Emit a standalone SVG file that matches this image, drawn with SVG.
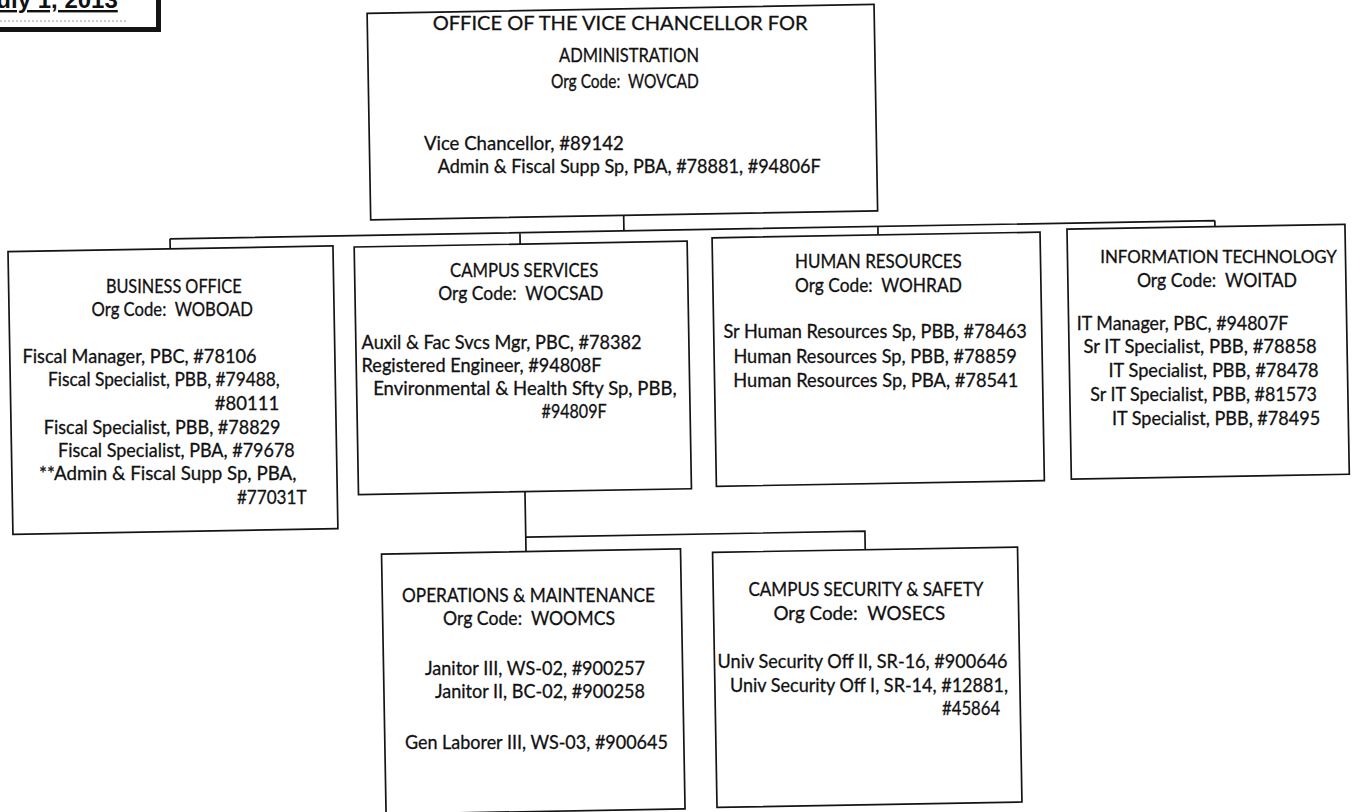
<svg xmlns="http://www.w3.org/2000/svg" width="1352" height="812" viewBox="0 0 1352 812">
<style>
.bx{fill:#fff;stroke:#141414;stroke-width:1.7}
.cn{fill:none;stroke:#141414;stroke-width:1.7}
text{font-family:Lato,"Open Sans","Liberation Sans",sans-serif;font-size:19px;fill:#111;stroke:#111;stroke-width:0.3;white-space:pre}
.hd{font-size:20px}
.it{font-size:17px}
.dt{font-family:"Liberation Sans",Arial,sans-serif;font-weight:bold;font-size:24px;text-decoration:underline;stroke-width:0}
</style>
<rect x="0" y="0" width="1352" height="812" fill="#fff"/>
<g id="date">
<line x1="0" y1="21" x2="126" y2="21" stroke="#9a9a9a" stroke-width="1" stroke-dasharray="2 2"/>
<path d="M0 29.5 H158.5 V0" fill="none" stroke="#141414" stroke-width="5"/>
<text class="dt" x="-17" y="8">July 1, 2013</text>
</g>
<g id="connectors" transform="rotate(-1 676 406)">
<path class="cn" d="M627 214.5 V230 M173 230 H1218 M173 230 V240 M523 230 V241.4 M881 230 V238.5 M1218 230 V236"/>
<path class="cn" d="M523.5 489 V549 M523.5 534.5 H862.7 V553"/>
</g>
<g id="vc-office">
<rect class="bx" x="374" y="8" width="507" height="206.5" transform="rotate(-1 676 406)"/>
<text class="hd" x="432.7" y="30.4" textLength="375" lengthAdjust="spacingAndGlyphs">OFFICE OF THE VICE CHANCELLOR FOR</text>
<text class="hd" x="559" y="61.6" textLength="140" lengthAdjust="spacingAndGlyphs">ADMINISTRATION</text>
<text x="550.9" y="88.2" textLength="148" lengthAdjust="spacingAndGlyphs">Org Code:  WOVCAD</text>
<text x="423.9" y="150" textLength="200" lengthAdjust="spacingAndGlyphs">Vice Chancellor, #89142</text>
<text x="437.7" y="173.2" textLength="383" lengthAdjust="spacingAndGlyphs">Admin &amp; Fiscal Supp Sp, PBA, #78881, #94806F</text>
</g>
<g id="business-office">
<rect class="bx" x="10.8" y="240" width="325" height="282.7" transform="rotate(-1 676 406)"/>
<text x="105.9" y="292.7" textLength="135.7" lengthAdjust="spacingAndGlyphs">BUSINESS OFFICE</text>
<text x="91.6" y="315.8" textLength="161.3" lengthAdjust="spacingAndGlyphs">Org Code:  WOBOAD</text>
<text x="22.5" y="363.3" textLength="234" lengthAdjust="spacingAndGlyphs">Fiscal Manager, PBC, #78106</text>
<text x="48.1" y="386.4" textLength="231.7" lengthAdjust="spacingAndGlyphs">Fiscal Specialist, PBB, #79488,</text>
<text x="214.8" y="409.5" textLength="64.3" lengthAdjust="spacingAndGlyphs">#80111</text>
<text x="43.8" y="433.5" textLength="236.7" lengthAdjust="spacingAndGlyphs">Fiscal Specialist, PBB, #78829</text>
<text x="58.1" y="456.7" textLength="236.7" lengthAdjust="spacingAndGlyphs">Fiscal Specialist, PBA, #79678</text>
<text x="39.1" y="480.4" textLength="257.4" lengthAdjust="spacingAndGlyphs">**Admin &amp; Fiscal Supp Sp, PBA,</text>
<text x="236.9" y="503.5" textLength="69.7" lengthAdjust="spacingAndGlyphs">#77031T</text>
</g>
<g id="campus-services">
<rect class="bx" x="357" y="241.4" width="333" height="247.6" transform="rotate(-1 676 406)"/>
<text x="450" y="276.9" textLength="148.3" lengthAdjust="spacingAndGlyphs">CAMPUS SERVICES</text>
<text x="438.3" y="299.9" textLength="165" lengthAdjust="spacingAndGlyphs">Org Code:  WOCSAD</text>
<text x="361.6" y="348.5" textLength="280" lengthAdjust="spacingAndGlyphs">Auxil &amp; Fac Svcs Mgr, PBC, #78382</text>
<text x="361.6" y="371.5" textLength="240" lengthAdjust="spacingAndGlyphs">Registered Engineer, #94808F</text>
<text x="373.2" y="394.5" textLength="303.4" lengthAdjust="spacingAndGlyphs">Environmental &amp; Health Sfty Sp, PBB,</text>
<text x="541.6" y="417.5" textLength="65" lengthAdjust="spacingAndGlyphs">#94809F</text>
</g>
<g id="human-resources">
<rect class="bx" x="715" y="238.5" width="328" height="248.5" transform="rotate(-1 676 406)"/>
<text x="795.1" y="268.2" textLength="166.7" lengthAdjust="spacingAndGlyphs">HUMAN RESOURCES</text>
<text x="795.1" y="291.6" textLength="166.7" lengthAdjust="spacingAndGlyphs">Org Code:  WOHRAD</text>
<text x="723.4" y="338.3" textLength="303.4" lengthAdjust="spacingAndGlyphs">Sr Human Resources Sp, PBB, #78463</text>
<text x="733.4" y="362.5" textLength="283.4" lengthAdjust="spacingAndGlyphs">Human Resources Sp, PBB, #78859</text>
<text x="733.3" y="387" textLength="285" lengthAdjust="spacingAndGlyphs">Human Resources Sp, PBA, #78541</text>
</g>
<g id="information-technology">
<rect class="bx" x="1070" y="236" width="278" height="250" transform="rotate(-1 676 406)"/>
<text class="it" x="1100.2" y="263.3" textLength="236.7" lengthAdjust="spacingAndGlyphs">INFORMATION TECHNOLOGY</text>
<text x="1136.9" y="286.5" textLength="160" lengthAdjust="spacingAndGlyphs">Org Code:  WOITAD</text>
<text x="1076.8" y="329.9" textLength="211.6" lengthAdjust="spacingAndGlyphs">IT Manager, PBC, #94807F</text>
<text x="1083.4" y="353.2" textLength="233.4" lengthAdjust="spacingAndGlyphs">Sr IT Specialist, PBB, #78858</text>
<text x="1108.5" y="376.7" textLength="210" lengthAdjust="spacingAndGlyphs">IT Specialist, PBB, #78478</text>
<text x="1090.2" y="401" textLength="226.7" lengthAdjust="spacingAndGlyphs">Sr IT Specialist, PBB, #81573</text>
<text x="1111.9" y="424.5" textLength="208.3" lengthAdjust="spacingAndGlyphs">IT Specialist, PBB, #78495</text>
</g>
<g id="operations-maintenance">
<rect class="bx" x="379" y="549" width="299" height="260" transform="rotate(-1 676 406)"/>
<text x="402" y="602.1" textLength="253" lengthAdjust="spacingAndGlyphs">OPERATIONS &amp; MAINTENANCE</text>
<text x="443" y="625.1" textLength="172" lengthAdjust="spacingAndGlyphs">Org Code:  WOOMCS</text>
<text x="425" y="674.9" textLength="220" lengthAdjust="spacingAndGlyphs">Janitor III, WS-02, #900257</text>
<text x="435" y="697.9" textLength="210" lengthAdjust="spacingAndGlyphs">Janitor II, BC-02, #900258</text>
<text x="404.9" y="748.9" textLength="263" lengthAdjust="spacingAndGlyphs">Gen Laborer III, WS-03, #900645</text>
</g>
<g id="campus-security-safety">
<rect class="bx" x="710" y="553" width="305" height="255" transform="rotate(-1 676 406)"/>
<text x="748.4" y="596" textLength="235" lengthAdjust="spacingAndGlyphs">CAMPUS SECURITY &amp; SAFETY</text>
<text x="773.4" y="620.2" textLength="171.7" lengthAdjust="spacingAndGlyphs">Org Code:  WOSECS</text>
<text x="717.6" y="668.1" textLength="290" lengthAdjust="spacingAndGlyphs">Univ Security Off II, SR-16, #900646</text>
<text x="730" y="692" textLength="278" lengthAdjust="spacingAndGlyphs">Univ Security Off I, SR-14, #12881,</text>
<text x="942.1" y="715" textLength="58" lengthAdjust="spacingAndGlyphs">#45864</text>
</g>
</svg>
